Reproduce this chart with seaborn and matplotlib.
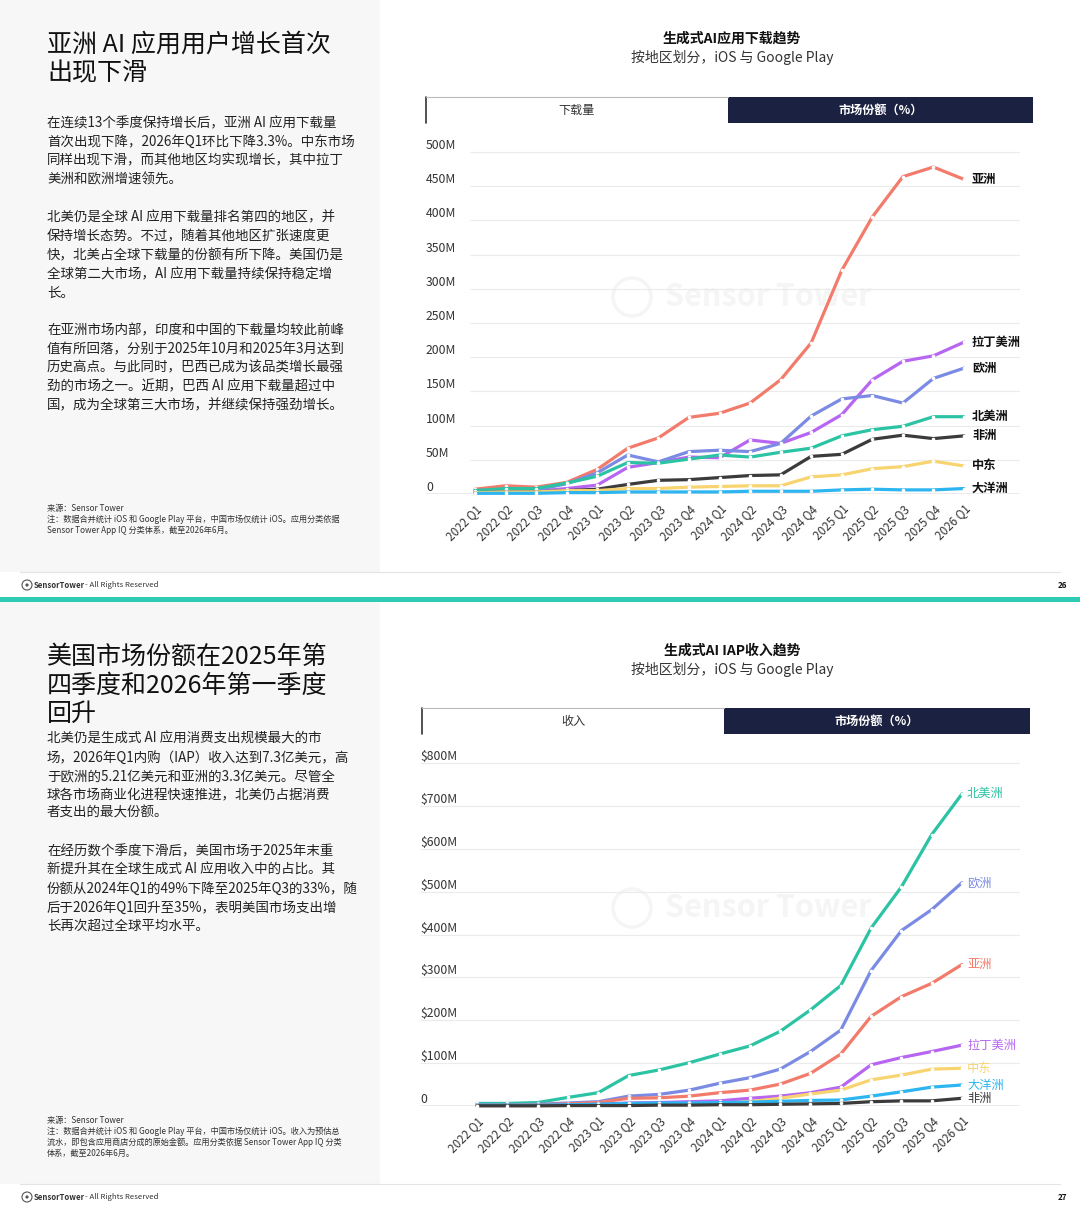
import matplotlib
matplotlib.use("Agg")
import matplotlib.pyplot as plt
import seaborn as sns
import pandas as pd
from matplotlib.patches import Rectangle, Circle

sns.set_theme(style="white")
plt.rcParams['font.family'] = ['Noto Sans CJK SC', 'DejaVu Sans']
plt.rcParams['axes.unicode_minus'] = False

# ---------------- data ----------------
quarters = ["2022 Q1", "2022 Q2", "2022 Q3", "2022 Q4",
            "2023 Q1", "2023 Q2", "2023 Q3", "2023 Q4",
            "2024 Q1", "2024 Q2", "2024 Q3", "2024 Q4",
            "2025 Q1", "2025 Q2", "2025 Q3", "2025 Q4", "2026 Q1"]

# Downloads (millions)
asia_dl = [7, 12, 10, 17, 36, 67, 82, 112, 118, 133, 167, 221, 327, 405, 464, 478, 460]
latam_dl = [3, 4, 4, 8, 13, 39, 46, 54, 53, 79, 74, 90, 116, 167, 194, 202, 222]
europe_dl = [5, 7, 6, 15, 31, 57, 47, 62, 64, 62, 74, 114, 139, 144, 133, 169, 184]
na_dl = [5, 8, 8, 16, 26, 46, 45, 51, 57, 54, 61, 67, 85, 94, 99, 113, 113]
africa_dl = [2, 3, 3, 5, 7, 14, 20, 21, 24, 27, 28, 55, 58, 80, 86, 81, 85]
me_dl = [2, 3, 3, 5, 5, 8, 8, 10, 11, 12, 12, 25, 28, 37, 40, 48, 41]
oceania_dl = [1, 1, 1, 2, 2, 3, 3, 3, 3, 4, 4, 4, 6, 7, 6, 6, 8]

# IAP revenue (USD millions)
na_rev = [6, 6, 8, 20, 31, 71, 84, 101, 121, 140, 174, 224, 281, 415, 511, 633, 728]
europe_rev = [3, 3, 4, 7, 10, 23, 27, 37, 53, 66, 86, 127, 177, 316, 409, 458, 521]
asia_rev = [2, 2, 3, 5, 8, 18, 19, 23, 31, 37, 51, 76, 121, 209, 255, 286, 330]
latam_rev = [1, 1, 1, 2, 4, 7, 8, 10, 12, 18, 23, 31, 44, 96, 113, 127, 142]
me_rev = [1, 1, 1, 1, 2, 3, 4, 5, 6, 10, 18, 28, 37, 61, 72, 86, 88]
oceania_rev = [2, 2, 2, 3, 4, 6, 7, 7, 8, 9, 11, 13, 14, 23, 33, 44, 49]
africa_rev = [0.5, 0.5, 0.5, 1, 1, 1, 2, 2, 3, 3, 4, 5, 6, 10, 12, 12, 18]

region_colors = {"亚洲": "#f37b6b", "拉丁美洲": "#b766f2", "欧洲": "#7b8be3",
                 "北美洲": "#2bc3a3", "非洲": "#3b3b3b", "中东": "#f8d470",
                 "大洋洲": "#2db5f0"}

dl_series = {"亚洲": asia_dl, "拉丁美洲": latam_dl, "欧洲": europe_dl, "北美洲": na_dl,
             "非洲": africa_dl, "中东": me_dl, "大洋洲": oceania_dl}
rev_series = {"北美洲": na_rev, "欧洲": europe_rev, "亚洲": asia_rev, "拉丁美洲": latam_rev,
              "中东": me_rev, "大洋洲": oceania_rev, "非洲": africa_rev}

dl_ticks = [0, 50, 100, 150, 200, 250, 300, 350, 400, 450, 500]
dl_ticklabels = ["0", "50M", "100M", "150M", "200M", "250M", "300M", "350M", "400M", "450M", "500M"]
rev_ticks = [0, 100, 200, 300, 400, 500, 600, 700, 800]
rev_ticklabels = ["0", "$100M", "$200M", "$300M", "$400M", "$500M", "$600M", "$700M", "$800M"]

title1 = ["亚洲 AI 应用用户增长首次", "出现下滑"]
body1 = [
    ["在连续13个季度保持增长后，亚洲 AI 应用下载量",
     "首次出现下降，2026年Q1环比下降3.3%。中东市场",
     "同样出现下滑，而其他地区均实现增长，其中拉丁",
     "美洲和欧洲增速领先。"],
    ["北美仍是全球 AI 应用下载量排名第四的地区，并",
     "保持增长态势。不过，随着其他地区扩张速度更",
     "快，北美占全球下载量的份额有所下降。美国仍是",
     "全球第二大市场，AI 应用下载量持续保持稳定增",
     "长。"],
    ["在亚洲市场内部，印度和中国的下载量均较此前峰",
     "值有所回落，分别于2025年10月和2025年3月达到",
     "历史高点。与此同时，巴西已成为该品类增长最强",
     "劲的市场之一。近期，巴西 AI 应用下载量超过中",
     "国，成为全球第三大市场，并继续保持强劲增长。"],
]
note1 = ["来源：Sensor Tower",
         "注：数据合并统计 iOS 和 Google Play 平台，中国市场仅统计 iOS。应用分类依据",
         "Sensor Tower App IQ 分类体系，截至2026年6月。"]

title2 = ["美国市场份额在2025年第", "四季度和2026年第一季度", "回升"]
body2 = [
    ["北美仍是生成式 AI 应用消费支出规模最大的市",
     "场，2026年Q1内购（IAP）收入达到7.3亿美元，高",
     "于欧洲的5.21亿美元和亚洲的3.3亿美元。尽管全",
     "球各市场商业化进程快速推进，北美仍占据消费",
     "者支出的最大份额。"],
    ["在经历数个季度下滑后，美国市场于2025年末重",
     "新提升其在全球生成式 AI 应用收入中的占比。其",
     "份额从2024年Q1的49%下降至2025年Q3的33%，随",
     "后于2026年Q1回升至35%，表明美国市场支出增",
     "长再次超过全球平均水平。"],
]
note2 = ["来源：Sensor Tower",
         "注：数据合并统计 iOS 和 Google Play 平台，中国市场仅统计 iOS。收入为预估总",
         "流水，即包含应用商店分成的原始金额。应用分类依据 Sensor Tower App IQ 分类",
         "体系，截至2026年6月。"]

# ---------------- figure ----------------
W, H = 1080, 1206
fig = plt.figure(figsize=(W / 100, H / 100), dpi=100, facecolor="white")

bg = fig.add_axes([0, 0, 1, 1], zorder=0)
bg.set_xlim(0, W)
bg.set_ylim(H, 0)
bg.axis("off")

TXT = "#222222"

# left panels
bg.add_patch(Rectangle((0, 0), 380, 572, facecolor="#f7f7f8", edgecolor="none"))
bg.add_patch(Rectangle((0, 602), 380, 582, facecolor="#f7f7f8", edgecolor="none"))

# footers and divider
for fy, ty, page in [(572, 585, "26"), (1184, 1197, "27")]:
    bg.plot([20, 1060], [fy, fy], color="#e4e4e4", lw=0.8)
    bg.add_patch(Circle((27, ty), 5, facecolor="none", edgecolor="#555555", lw=0.8))
    bg.add_patch(Circle((27, ty), 1.6, facecolor="#555555", edgecolor="none"))
    bg.text(34, ty, "SensorTower", fontsize=5.6, weight="bold", color="#333333",
            ha="left", va="center")
    bg.text(85, ty, "- All Rights Reserved", fontsize=5.6, color="#333333",
            ha="left", va="center")
    bg.text(1062, ty, page, fontsize=5.8, weight="bold", color="#111111",
            ha="center", va="center")
bg.add_patch(Rectangle((0, 597), W, 5, facecolor="#2ecbb5", edgecolor="none"))


def left_text(title_lines, title_ys, paragraphs, para_ys, notes, note_ys):
    for s, y in zip(title_lines, title_ys):
        bg.text(47, y, s, fontsize=18, color="#111111", ha="left", va="center")
    for para, ys in zip(paragraphs, para_ys):
        for s, y in zip(para, ys):
            bg.text(47, y, s, fontsize=9.7, color=TXT, ha="left", va="center")
    for s, y in zip(notes, note_ys):
        bg.text(47, y, s, fontsize=5.9, color="#333333", ha="left", va="center")


left_text(title1, [45, 73], body1,
          [[123, 142, 160, 179], [217, 236, 255, 274, 293], [330, 349, 367, 386, 405]],
          note1, [509, 519, 530])
left_text(title2, [657, 686, 714], body2,
          [[739, 758, 776, 795, 813], [851, 870, 889, 908, 926]],
          note2, [1121, 1131, 1142, 1153])

# chart headers, tabs, watermarks
for cy, t1, tab_left, tab_l, tab_r, top in [
        (39, "生成式AI应用下载趋势", "下载量", 426, 1033, 97),
        (651, "生成式AI IAP收入趋势", "收入", 422, 1030, 708)]:
    bg.text(732, cy, t1, fontsize=10, weight="bold", color="#111111", ha="center", va="center")
    bg.text(732, cy + 18, "按地区划分，iOS 与 Google Play", fontsize=10, color="#333333",
            ha="center", va="center")
    mid = (tab_l + tab_r) / 2 - 2
    bg.add_patch(Rectangle((tab_l, top), mid - tab_l, 26, facecolor="white", edgecolor="none"))
    bg.plot([tab_l, tab_l], [top, top + 26], color="#333333", lw=1.2)
    bg.plot([tab_l, mid], [top, top], color="#bbbbbb", lw=0.8)
    bg.add_patch(Rectangle((mid, top), tab_r - mid, 26, facecolor="#1b2140", edgecolor="none"))
    bg.text((tab_l + mid) / 2, top + 13, tab_left, fontsize=8.7, color="#333333",
            ha="center", va="center")
    bg.text((mid + tab_r) / 2, top + 13, "市场份额（%）", fontsize=8.7, color="white",
            weight="bold", ha="center", va="center")
    wy = top + 200
    bg.add_patch(Circle((632, wy), 19, facecolor="none", edgecolor="#f5f5f5", lw=2.5))
    bg.text(665, wy, "Sensor Tower", fontsize=22, color="#f5f5f5", weight="bold",
            ha="left", va="center")


def draw_chart(series, left_px, right_px, top_px, base_px, x0_px, x16_px, px_per_unit,
               ticks, ticklabels, grid_start_px, label_dx_pt, label_bold, label_colored):
    ax = fig.add_axes([left_px / W, 1 - base_px / H, (right_px - left_px) / W,
                       (base_px - top_px) / H], zorder=2)
    ax.patch.set_alpha(0)
    step = (x16_px - x0_px) / 16
    xl = (left_px - x0_px) / step
    xr = 16 + (right_px - x16_px) / step
    ax.set_xlim(xl, xr)
    ax.set_ylim(0, (base_px - top_px) / px_per_unit)

    rows = []
    for name, vals in series.items():
        for i, v in enumerate(vals):
            rows.append({"idx": i, "region": name, "value": v})
    df = pd.DataFrame(rows)
    order = list(series.keys())
    sns.lineplot(data=df, x="idx", y="value", hue="region", hue_order=order,
                 palette=region_colors, ax=ax, legend=False, linewidth=2.3,
                 marker="o", markersize=2.6, markerfacecolor="white",
                 markeredgecolor="white", markeredgewidth=0,
                 solid_joinstyle="round", solid_capstyle="round")
    for ln in ax.lines:
        ln.set_clip_on(False)

    gs = (grid_start_px - x0_px) / step
    ax.hlines(ticks[1:], gs, xr, color="#ebebeb", lw=0.8, zorder=0)
    ax.axhline(0, color="#9c9c9c", lw=1.0, zorder=0.5)

    for sp in ax.spines.values():
        sp.set_visible(False)
    ax.grid(False)
    ax.set_xlabel("")
    ax.set_ylabel("")

    ax.set_yticks(ticks)
    ax.set_yticklabels(ticklabels)
    ax.tick_params(axis="y", length=0, pad=0, labelsize=8.8, labelcolor="#333333")
    for lb in ax.get_yticklabels():
        lb.set_ha("left")
        lb.set_va("bottom")

    ax.set_xticks(range(len(quarters)))
    ax.set_xticklabels(quarters, rotation=45, ha="right", va="top", rotation_mode="anchor")
    ax.tick_params(axis="x", length=0, pad=6, labelsize=8.4, labelcolor="#333333")

    for name, vals in series.items():
        ax.annotate(name, xy=(16, vals[-1]), xytext=(label_dx_pt, 0),
                    textcoords="offset points", ha="left", va="center",
                    fontsize=8.8, weight="bold" if label_bold else "normal",
                    color=region_colors[name] if label_colored else "#111111",
                    annotation_clip=False)
    return ax


draw_chart(dl_series, 426, 1020, 138, 494, 475, 964, 0.684,
           dl_ticks, dl_ticklabels, 470, 5.8, True, False)
draw_chart(rev_series, 420, 1020, 750, 1106, 477, 962, 0.42875,
           rev_ticks, rev_ticklabels, 420, 3.6, False, True)

fig.savefig("out.png", dpi=100, facecolor="white")
